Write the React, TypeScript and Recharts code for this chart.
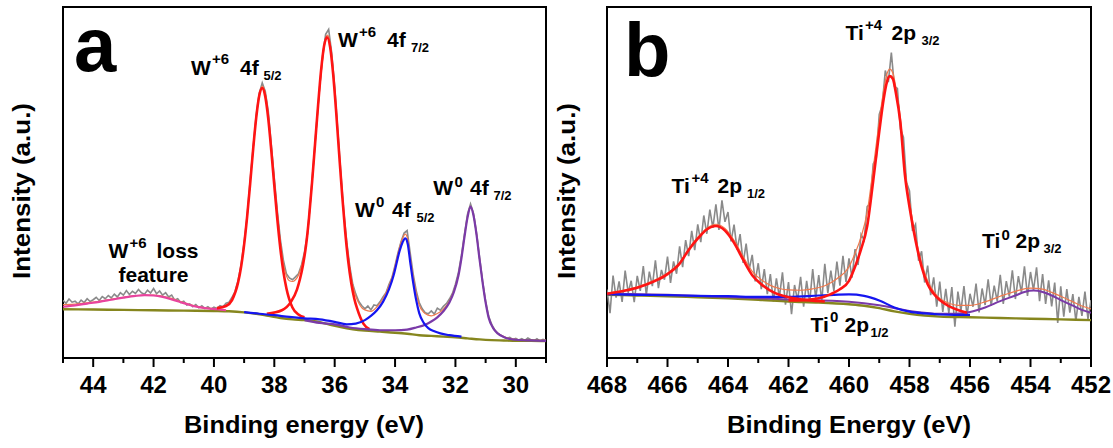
import React from "react";
import { LineChart, Line, XAxis, YAxis, ReferenceArea } from "recharts";

const FONT = "'Liberation Sans', Arial, Helvetica, sans-serif";

// ---------- panel a : W 4f ----------
const aTicks = [45, 44, 43, 42, 41, 40, 39, 38, 37, 36, 35, 34, 33, 32, 31, 30, 29];

const aRawE = [
  45.0, 44.9, 44.8, 44.7, 44.6, 44.5, 44.4, 44.3, 44.2, 44.1,
  44.0, 43.9, 43.8, 43.7, 43.6, 43.5, 43.4, 43.3, 43.2, 43.1,
  43.0, 42.9, 42.8, 42.7, 42.6, 42.5, 42.4, 42.3, 42.2, 42.1,
  42.0, 41.9, 41.8, 41.7, 41.6, 41.5, 41.4, 41.3, 41.2, 41.1,
  41.0, 40.9, 40.8, 40.7, 40.6, 40.5, 40.4, 40.3, 40.2, 40.1,
  40.0, 39.9, 39.8, 39.7, 39.6, 39.5, 39.4, 39.3, 39.2, 39.1,
  39.0, 38.9, 38.8, 38.7, 38.6, 38.5, 38.4, 38.3, 38.2, 38.1,
  38.0, 37.9, 37.8, 37.7, 37.6, 37.5, 37.4, 37.3, 37.2, 37.1,
  37.0, 36.9, 36.8, 36.7, 36.6, 36.5, 36.4, 36.3, 36.2, 36.1,
  36.0, 35.9, 35.8, 35.7, 35.6, 35.5, 35.4, 35.3, 35.2, 35.1,
  35.0, 34.9, 34.8, 34.7, 34.6, 34.5, 34.4, 34.3, 34.2, 34.1,
  34.0, 33.9, 33.8, 33.7, 33.6, 33.5, 33.4, 33.3, 33.2, 33.1,
  33.0, 32.9, 32.8, 32.7, 32.6, 32.5, 32.4, 32.3, 32.2, 32.1,
  32.0, 31.9, 31.8, 31.7, 31.6, 31.5, 31.4, 31.3, 31.2, 31.1,
  31.0, 30.9, 30.8, 30.7, 30.6, 30.5, 30.4, 30.3, 30.2, 30.1,
  30.0, 29.9, 29.8, 29.7, 29.6, 29.5, 29.4, 29.3, 29.2, 29.1,
  29.0,
];
const aRawV = [
  16.4, 15.6, 16.8, 15.9, 16.2, 15.4, 16.5, 15.8, 16.9, 16.1,
  16.6, 17.3, 16.4, 17.5, 16.9, 17.8, 17.1, 18.2, 17.4, 18.6,
  17.9, 19.2, 18.1, 19.0, 18.4, 19.5, 18.6, 18.2, 19.3, 18.5,
  19.8, 18.3, 19.1, 17.9, 18.6, 17.4, 17.9, 16.5, 16.9, 15.8,
  16.2, 15.1, 15.4, 14.6, 15.2, 14.3, 14.9, 14.1, 14.6, 13.9,
  14.5, 14.1, 14.9, 14.6, 15.6, 15.9, 17.3, 19.0, 22.1, 26.6,
  32.9, 40.5, 50.6, 60.1, 69.2, 75.4, 78.4, 76.0, 70.3, 60.8,
  51.2, 41.9, 33.8, 27.9, 24.0, 22.8, 22.3, 23.1, 24.0, 26.5,
  30.2, 35.6, 45.2, 55.9, 66.8, 77.0, 86.1, 92.2, 93.6, 87.0,
  77.2, 65.0, 53.1, 41.8, 33.0, 26.1, 21.0, 18.2, 16.1, 14.9,
  14.0, 14.8, 13.7, 15.1, 14.9, 16.0, 17.4, 18.6, 21.0, 23.0,
  26.4, 30.1, 33.2, 35.6, 36.3, 30.0, 23.9, 19.2, 15.8, 14.0,
  12.9, 12.6, 13.4, 12.5, 14.2, 13.6, 14.7, 15.5, 16.8, 18.4,
  21.0, 24.4, 29.3, 35.4, 41.0, 43.9, 41.2, 35.6, 28.6, 21.9,
  16.2, 11.9, 9.6, 8.0, 7.0, 6.5, 6.0, 5.6, 5.9, 5.3,
  5.6, 5.1, 5.5, 5.0, 5.7, 5.2, 4.9, 5.5, 4.8, 5.3,
  5.0,
];

const aEnvE = [
  45.0, 44.5, 44.0, 43.5, 43.0, 42.5, 42.0, 41.5, 41.0, 40.5, 40.0, 39.8, 39.6, 39.4, 39.2, 39.1,
  39.0, 38.9, 38.8, 38.7, 38.6, 38.5, 38.4, 38.3, 38.2, 38.1, 38.0, 37.9, 37.8, 37.7, 37.6, 37.5,
  37.4, 37.3, 37.2, 37.1, 37.0, 36.9, 36.8, 36.7, 36.6, 36.5, 36.4, 36.3, 36.25, 36.2, 36.1, 36.0,
  35.9, 35.8, 35.7, 35.6, 35.5, 35.4, 35.3, 35.2, 35.1, 35.0, 34.8, 34.6, 34.4, 34.2, 34.05, 33.95,
  33.85, 33.75, 33.66, 33.58, 33.5, 33.4, 33.3, 33.2, 33.05, 32.9, 32.8, 32.7, 32.6, 32.5, 32.4, 32.2,
  32.05, 31.9, 31.8, 31.7, 31.6, 31.5, 31.4, 31.3, 31.2, 31.1, 31.0, 30.9, 30.75, 30.6, 30.4, 30.2,
  30.0, 29.5, 29.0,
];
const aEnvV = [
  15.2, 15.4, 15.9, 16.6, 17.3, 17.8, 17.9, 17.2, 15.8, 14.6, 14.1, 14.4, 15.0, 16.7, 21.6, 26.0,
  32.3, 40.3, 49.7, 59.6, 68.4, 74.7, 77.5, 75.4, 69.1, 60.2, 50.4, 41.0, 33.0, 26.9, 23.4, 22.0,
  21.8, 22.3, 23.6, 26.2, 29.6, 35.2, 44.6, 55.2, 66.0, 76.4, 85.0, 90.8, 92.0, 91.6, 86.2, 76.6,
  64.6, 52.6, 41.2, 32.6, 25.6, 20.6, 17.6, 15.6, 14.3, 13.7, 13.3, 14.6, 16.9, 20.5, 24.4, 28.0,
  31.5, 34.1, 35.3, 33.8, 28.9, 23.1, 18.5, 15.1, 13.0, 12.2, 12.0, 12.3, 12.7, 13.2, 13.9, 16.2,
  19.1, 23.7, 28.6, 34.6, 40.1, 43.2, 40.6, 35.1, 28.1, 21.6, 15.9, 11.6, 8.6, 7.1, 6.1, 5.5,
  5.3, 5.1, 5.0,
];

const aBaseE = [45, 44, 43, 42, 41, 40, 39.5, 39, 38.6, 38.2, 37.8, 37.4, 37, 36.6, 36.2, 35.8, 35.4, 35, 34.5, 34, 33.6, 33.2, 32.8, 32.4, 32, 31.6, 31.2, 30.8, 30.4, 30, 29.5, 29];
const aBaseV = [13.9, 13.8, 13.7, 13.6, 13.5, 13.4, 13.3, 13.0, 12.6, 12.0, 11.4, 11.0, 10.8, 10.4, 9.6, 8.8, 8.2, 7.8, 7.5, 7.2, 6.9, 6.5, 6.3, 6.1, 5.9, 5.6, 5.3, 5.1, 5.0, 4.9, 4.9, 4.8];

const aLossE = [45.0, 44.6, 44.2, 43.8, 43.4, 43.0, 42.6, 42.3, 42.0, 41.7, 41.4, 41.1, 40.8, 40.5, 40.2, 39.9, 39.6];
const aLossV = [14.6, 15.0, 15.5, 16.0, 16.6, 17.2, 17.7, 17.9, 17.8, 17.4, 16.7, 15.9, 15.1, 14.5, 14.1, 13.9, 13.6];

const aW6aE = [39.9, 39.6, 39.4, 39.2, 39.1, 39.0, 38.9, 38.8, 38.7, 38.6, 38.5, 38.4, 38.3, 38.2, 38.1, 38.0, 37.9, 37.8, 37.7, 37.6, 37.4, 37.2, 37.0];
const aW6aV = [14.2, 14.8, 16.5, 21.5, 26.0, 32.3, 40.3, 49.7, 59.6, 68.4, 74.7, 76.9, 74.5, 68.1, 59.1, 49.1, 39.5, 31.2, 24.6, 19.9, 14.4, 12.4, 11.6];

const aW6bE = [38.25, 37.75, 37.45, 37.25, 37.15, 37.05, 36.95, 36.85, 36.75, 36.65, 36.55, 36.45, 36.35, 36.25, 36.15, 36.05, 35.95, 35.85, 35.75, 35.65, 35.55, 35.45, 35.35, 35.25, 35.05, 34.85];
const aW6bV = [12.6, 13.6, 16.0, 19.5, 22.5, 26.5, 32.0, 40.0, 50.0, 61.0, 72.0, 82.0, 89.0, 91.4, 88.5, 80.8, 70.0, 57.9, 46.2, 35.8, 27.5, 21.3, 16.9, 13.9, 9.8, 8.2];

const aW0aE = [39.0, 38.5, 38.0, 37.5, 37.0, 36.5, 36.0, 35.6, 35.3, 35.0, 34.8, 34.6, 34.4, 34.2, 34.05, 33.95, 33.85, 33.75, 33.66, 33.58, 33.5, 33.4, 33.3, 33.2, 33.05, 32.9, 32.7, 32.5, 32.2, 31.8];
const aW0aV = [13.1, 12.6, 12.2, 11.7, 11.3, 11.0, 10.3, 9.6, 9.8, 10.8, 12.0, 13.6, 16.0, 19.6, 23.5, 27.0, 30.5, 33.0, 34.1, 32.5, 27.5, 21.5, 16.5, 12.8, 10.0, 8.5, 7.6, 7.0, 6.5, 6.1];

const aW0bE = [37.0, 36.5, 36.0, 35.5, 35.0, 34.5, 34.0, 33.6, 33.3, 33.0, 32.8, 32.6, 32.4, 32.2, 32.05, 31.9, 31.8, 31.7, 31.6, 31.5, 31.4, 31.3, 31.2, 31.1, 31.0, 30.9, 30.75, 30.6, 30.4, 30.2, 30.0, 29.5, 29.0];
const aW0bV = [10.8, 10.0, 9.6, 8.7, 8.2, 7.9, 7.9, 8.1, 8.7, 9.5, 10.4, 11.6, 13.3, 15.8, 18.8, 23.5, 28.5, 34.5, 40.0, 43.1, 40.5, 35.0, 28.0, 21.5, 15.8, 11.5, 8.5, 7.0, 6.0, 5.4, 5.2, 5.0, 4.9];

// ---------- panel b : Ti 2p ----------
const bTicks = [468, 467, 466, 465, 464, 463, 462, 461, 460, 459, 458, 457, 456, 455, 454, 453, 452];

const bRawE = [
  468.0, 467.9, 467.8, 467.7, 467.6, 467.5, 467.4, 467.3, 467.2, 467.1,
  467.0, 466.9, 466.8, 466.7, 466.6, 466.5, 466.4, 466.3, 466.2, 466.1,
  466.0, 465.9, 465.8, 465.7, 465.6, 465.5, 465.4, 465.3, 465.2, 465.1,
  465.0, 464.9, 464.8, 464.7, 464.6, 464.5, 464.4, 464.3, 464.2, 464.1,
  464.0, 463.9, 463.8, 463.7, 463.6, 463.5, 463.4, 463.3, 463.2, 463.1,
  463.0, 462.9, 462.8, 462.7, 462.6, 462.5, 462.4, 462.3, 462.2, 462.1,
  462.0, 461.9, 461.8, 461.7, 461.6, 461.5, 461.4, 461.3, 461.2, 461.1,
  461.0, 460.9, 460.8, 460.7, 460.6, 460.5, 460.4, 460.3, 460.2, 460.1,
  460.0, 459.9, 459.8, 459.7, 459.6, 459.5, 459.4, 459.3, 459.2, 459.1,
  459.0, 458.9, 458.8, 458.7, 458.6, 458.5, 458.4, 458.3, 458.2, 458.1,
  458.0, 457.9, 457.8, 457.7, 457.6, 457.5, 457.4, 457.3, 457.2, 457.1,
  457.0, 456.9, 456.8, 456.7, 456.6, 456.5, 456.4, 456.3, 456.2, 456.1,
  456.0, 455.9, 455.8, 455.7, 455.6, 455.5, 455.4, 455.3, 455.2, 455.1,
  455.0, 454.9, 454.8, 454.7, 454.6, 454.5, 454.4, 454.3, 454.2, 454.1,
  454.0, 453.9, 453.8, 453.7, 453.6, 453.5, 453.4, 453.3, 453.2, 453.1,
  453.0, 452.9, 452.8, 452.7, 452.6, 452.5, 452.4, 452.3, 452.2, 452.1,
  452.0,
];
const bRawV = [
  19.5, 12.8, 23.5, 17.2, 21.8, 16.0, 24.9, 18.6, 22.0, 15.9,
  23.4, 19.1, 26.2, 18.0, 24.6, 20.5, 27.8, 19.9, 25.1, 22.3,
  28.9, 21.4, 27.5, 24.0, 31.8, 25.9, 33.6, 29.0, 36.2, 30.7,
  38.1, 33.0, 40.6, 35.4, 42.3, 37.1, 43.8, 36.5, 44.9, 38.8,
  41.6, 33.2, 38.0, 30.9, 35.3, 27.1, 32.6, 25.2, 29.4, 21.8,
  27.0, 19.6, 25.3, 18.2, 23.9, 16.1, 22.7, 17.3, 24.4, 15.2,
  21.6, 12.5, 20.8, 16.4, 23.1, 14.6, 22.0, 15.8, 25.3, 17.0,
  23.6, 16.2, 26.8, 18.5, 24.9, 19.1, 27.5, 20.6, 29.1, 21.7,
  28.4, 22.9, 31.0, 26.5, 35.2, 33.6, 43.1, 44.0, 55.3, 56.8,
  69.4, 72.1, 81.9, 78.6, 87.0, 77.4, 76.8, 65.2, 62.9, 50.1,
  47.6, 36.2, 38.1, 27.7, 30.4, 21.5, 26.3, 17.9, 23.0, 14.6,
  21.8, 13.1, 19.7, 12.8, 20.2, 8.9, 18.9, 13.4, 20.5, 12.1,
  18.3, 14.6, 21.2, 13.0, 19.8, 15.1, 22.4, 14.9, 20.6, 16.2,
  23.7, 15.4, 21.9, 17.5, 25.0, 16.8, 23.3, 18.6, 26.1, 17.7,
  24.5, 19.3, 25.8, 16.2, 23.9, 15.4, 22.1, 14.7, 21.5, 10.0,
  20.4, 11.8, 19.6, 12.9, 18.2, 10.6, 17.4, 12.0, 18.9, 11.1,
  16.5,
];

const bEnvE = [
  468, 467.5, 467, 466.5, 466, 465.6, 465.3, 465, 464.7, 464.4, 464.1, 463.8, 463.5, 463.2, 462.9, 462.6,
  462.3, 462, 461.6, 461.2, 460.8, 460.4, 460, 459.8, 459.6, 459.4, 459.2, 459, 458.85, 458.75, 458.65, 458.55,
  458.45, 458.3, 458.15, 458, 457.8, 457.6, 457.4, 457.2, 457, 456.7, 456.4, 456, 455.5, 455, 454.5, 454,
  453.6, 453.3, 453, 452.6, 452.3, 452,
];
const bEnvV = [
  18.5, 19.2, 20.3, 21.9, 24.2, 27.2, 31.1, 34.4, 37.0, 38.1, 36.9, 33.5, 28.9, 24.7, 22.3, 20.7,
  19.8, 19.4, 19.3, 19.7, 20.6, 22.6, 26.0, 29.8, 34.5, 41.5, 54.0, 67.5, 76.5, 80.8, 82.3, 81.2,
  77.0, 68.3, 54.0, 44.5, 34.6, 27.0, 22.0, 18.9, 17.0, 15.6, 15.0, 15.0, 16.0, 17.6, 19.0, 19.9,
  19.6, 18.7, 17.6, 16.0, 14.8, 14.0,
];

const bBaseE = [468, 467, 466, 465, 464, 463, 462, 461, 460, 459.5, 459, 458.5, 458, 457.5, 457, 456, 455, 454, 453, 452];
const bBaseV = [18.0, 17.8, 17.6, 17.3, 17.0, 16.6, 16.1, 15.8, 15.3, 14.9, 14.2, 13.3, 12.6, 12.1, 11.8, 11.6, 11.4, 11.2, 11.0, 10.8];

const bTi4aE = [468.0, 467.5, 467.0, 466.5, 466.0, 465.6, 465.3, 465.0, 464.7, 464.4, 464.1, 463.8, 463.5, 463.2, 462.9, 462.6, 462.3, 462.0, 461.6, 461.2, 460.8];
const bTi4aV = [18.3, 19.0, 20.0, 21.6, 23.9, 26.9, 30.8, 34.0, 36.6, 37.6, 36.3, 32.8, 28.0, 23.6, 21.0, 19.2, 18.0, 17.3, 16.7, 16.3, 16.1];

const bTi4bE = [462.0, 461.5, 461.0, 460.6, 460.3, 460.0, 459.8, 459.6, 459.4, 459.2, 459.0, 458.85, 458.75, 458.65, 458.55, 458.45, 458.3, 458.15, 458.0, 457.8, 457.6, 457.4, 457.2, 457.0, 456.7, 456.4, 456.1];
const bTi4bV = [16.4, 16.5, 17.0, 18.2, 19.6, 22.0, 26.0, 31.0, 37.5, 50.5, 64.5, 74.0, 78.5, 80.3, 79.5, 75.5, 67.0, 52.0, 43.0, 33.5, 26.0, 21.0, 18.3, 16.5, 14.8, 13.7, 12.9];

const bTi0aE = [468, 467, 466, 465, 464, 463, 462, 461, 460.5, 460, 459.5, 459, 458.5, 458, 457.5, 457, 456.5, 456];
const bTi0aV = [18.2, 18.0, 17.9, 17.7, 17.6, 17.4, 17.4, 17.8, 18.0, 18.1, 17.7, 16.4, 14.4, 13.2, 12.7, 12.4, 12.3, 12.3];

const bTi0bE = [468, 466, 464, 462, 460, 459, 458, 457, 456.5, 456, 455.5, 455, 454.5, 454.2, 453.9, 453.6, 453.3, 453, 452.6, 452.3, 452];
const bTi0bV = [18.4, 18.0, 17.4, 16.7, 16.0, 15.0, 13.4, 12.6, 12.6, 13.1, 14.4, 16.2, 17.8, 18.8, 19.2, 18.8, 17.8, 16.5, 14.9, 13.7, 12.9];

// ---------- annotations: [text, x, baseline y, font size] ----------
type Part = [string, number, number, number];
const peakLabels: Part[][] = [
  [["W", 191, 75, 21], ["+6", 212, 63.5, 15], ["4f", 240, 75, 21], ["5/2", 263.5, 80, 13]],
  [["W", 338, 47, 21], ["+6", 359, 36.5, 15], ["4f", 387, 47, 21], ["7/2", 411, 52, 13]],
  [["W", 355, 216.7, 21], ["0", 376, 206.5, 15], ["4f", 392, 216.7, 21], ["5/2", 416.5, 221.7, 13]],
  [["W", 433.3, 195, 21], ["0", 454.5, 186.5, 15], ["4f", 470, 195, 21], ["7/2", 493.5, 200, 13]],
  [["W", 108.5, 258.3, 21], ["+6", 129.5, 248, 15], ["loss", 156.5, 258.3, 21]],
  [["feature", 118.5, 281.7, 21]],
  [["Ti", 845.5, 40, 21], ["+4", 865, 30, 15], ["2p", 891.5, 40, 21], ["3/2", 921.5, 45, 13]],
  [["Ti", 671.5, 192.7, 21], ["+4", 691.5, 183, 15], ["2p", 717.5, 192.7, 21], ["1/2", 747, 198, 13]],
  [["Ti", 982, 248.3, 21], ["0", 1001.5, 240, 15], ["2p", 1015.5, 248.3, 21], ["3/2", 1043.5, 253.3, 13]],
  [["Ti", 810.5, 331.7, 21], ["0", 830, 322, 15], ["2p", 844.5, 331.7, 21], ["1/2", 870.5, 337, 13]],
];

const pts = (e: number[], v: number[]) => e.map((x, i) => ({ e: x, v: v[i] }));

const C = {
  raw: "#8a8a8a",
  env: "#f0784c",
  base: "#86861e",
  red: "#ff1414",
  blue: "#1515f0",
  purple: "#7a3aa8",
  magenta: "#e8449e",
};

function EnergyTick(props: any) {
  const { x, y, payload } = props;
  const val = payload.value as number;
  const major = val % 2 === 0;
  return (
    <g>
      <line x1={x} x2={x} y1={y} y2={y + (major ? 9 : 5)} stroke="#000" strokeWidth={2} />
      {major ? (
        <text x={x} y={y + 35} textAnchor="middle" fontFamily={FONT} fontWeight="bold" fontSize={24} fill="#000">
          {val}
        </text>
      ) : null}
    </g>
  );
}

function Curve({ data, color, width, smooth = true }: { data: { e: number; v: number }[]; color: string; width: number; smooth?: boolean }) {
  return (
    <Line
      data={data}
      dataKey="v"
      type={smooth ? "monotone" : "linear"}
      stroke={color}
      strokeWidth={width}
      dot={false}
      activeDot={false}
      isAnimationActive={false}
    />
  );
}

function Panel({
  width,
  margin,
  domain,
  ticks,
  children,
}: {
  width: number;
  margin: { top: number; right: number; bottom: number; left: number };
  domain: [number, number];
  ticks: number[];
  children: React.ReactNode;
}) {
  return (
    <LineChart width={width} height={448} margin={margin}>
      <XAxis
        dataKey="e"
        type="number"
        domain={domain}
        reversed
        allowDataOverflow
        ticks={ticks}
        interval={0}
        tick={EnergyTick}
        tickLine={false}
        axisLine={false}
        tickSize={0}
        tickMargin={0}
        height={90}
      />
      <YAxis hide type="number" domain={[0, 100]} allowDataOverflow />
      {children}
      <ReferenceArea x1={domain[0]} x2={domain[1]} y1={0} y2={100} fill="none" stroke="#000" strokeWidth={2} ifOverflow="visible" />
    </LineChart>
  );
}

export default function App() {
  const textProps = { fontFamily: FONT, fontWeight: "bold" as const, fill: "#000" };
  return (
    <div style={{ position: "absolute", left: 0, top: 0, width: 1113, height: 448, background: "#fff" }}>
      <div style={{ position: "absolute", left: 0, top: 0 }}>
        <Panel width={556} margin={{ top: 7, right: 10, bottom: 0, left: 63 }} domain={[29, 45]} ticks={aTicks}>
          {Curve({ data: pts(aRawE, aRawV), color: C.raw, width: 1.6, smooth: false })}
          {Curve({ data: pts(aEnvE, aEnvV), color: C.env, width: 1.2 })}
          {Curve({ data: pts(aBaseE, aBaseV), color: C.base, width: 2.4 })}
          {Curve({ data: pts(aLossE, aLossV), color: C.magenta, width: 2.2 })}
          {Curve({ data: pts(aW6aE, aW6aV), color: C.red, width: 2.6 })}
          {Curve({ data: pts(aW6bE, aW6bV), color: C.red, width: 2.6 })}
          {Curve({ data: pts(aW0bE, aW0bV), color: C.purple, width: 2.2 })}
          {Curve({ data: pts(aW0aE, aW0aV), color: C.blue, width: 2.2 })}
        </Panel>
      </div>
      <div style={{ position: "absolute", left: 556, top: 0 }}>
        <Panel width={557} margin={{ top: 7, right: 22, bottom: 0, left: 51 }} domain={[452, 468]} ticks={bTicks}>
          {Curve({ data: pts(bRawE, bRawV), color: C.raw, width: 1.6, smooth: false })}
          {Curve({ data: pts(bEnvE, bEnvV), color: C.env, width: 1.2 })}
          {Curve({ data: pts(bBaseE, bBaseV), color: C.base, width: 2.4 })}
          {Curve({ data: pts(bTi0bE, bTi0bV), color: C.purple, width: 2 })}
          {Curve({ data: pts(bTi0aE, bTi0aV), color: C.blue, width: 2.2 })}
          {Curve({ data: pts(bTi4aE, bTi4aV), color: C.red, width: 2.6 })}
          {Curve({ data: pts(bTi4bE, bTi4bV), color: C.red, width: 2.6 })}
        </Panel>
      </div>
      <svg width={1113} height={448} style={{ position: "absolute", left: 0, top: 0, pointerEvents: "none" }}>
        <text x={74} y={71} fontSize={76} {...textProps}>a</text>
        <text x={624} y={76} fontSize={76} {...textProps}>b</text>
        {peakLabels.map((parts, i) => (
          <text key={i} {...textProps}>
            {parts.map(([t, x, y, s], j) => (
              <tspan key={j} x={x} y={y} fontSize={s}>
                {t}
              </tspan>
            ))}
          </text>
        ))}
        <text x={304} y={433} fontSize={23} textAnchor="middle" textLength={240} lengthAdjust="spacingAndGlyphs" {...textProps}>
          Binding energy (eV)
        </text>
        <text x={849} y={433} fontSize={23} textAnchor="middle" textLength={244} lengthAdjust="spacingAndGlyphs" {...textProps}>
          Binding Energy (eV)
        </text>
        <text transform="translate(30,191) rotate(-90)" fontSize={23} textAnchor="middle" textLength={176} lengthAdjust="spacingAndGlyphs" {...textProps}>
          Intensity (a.u.)
        </text>
        <text transform="translate(575,191) rotate(-90)" fontSize={23} textAnchor="middle" textLength={176} lengthAdjust="spacingAndGlyphs" {...textProps}>
          Intensity (a.u.)
        </text>
      </svg>
    </div>
  );
}
